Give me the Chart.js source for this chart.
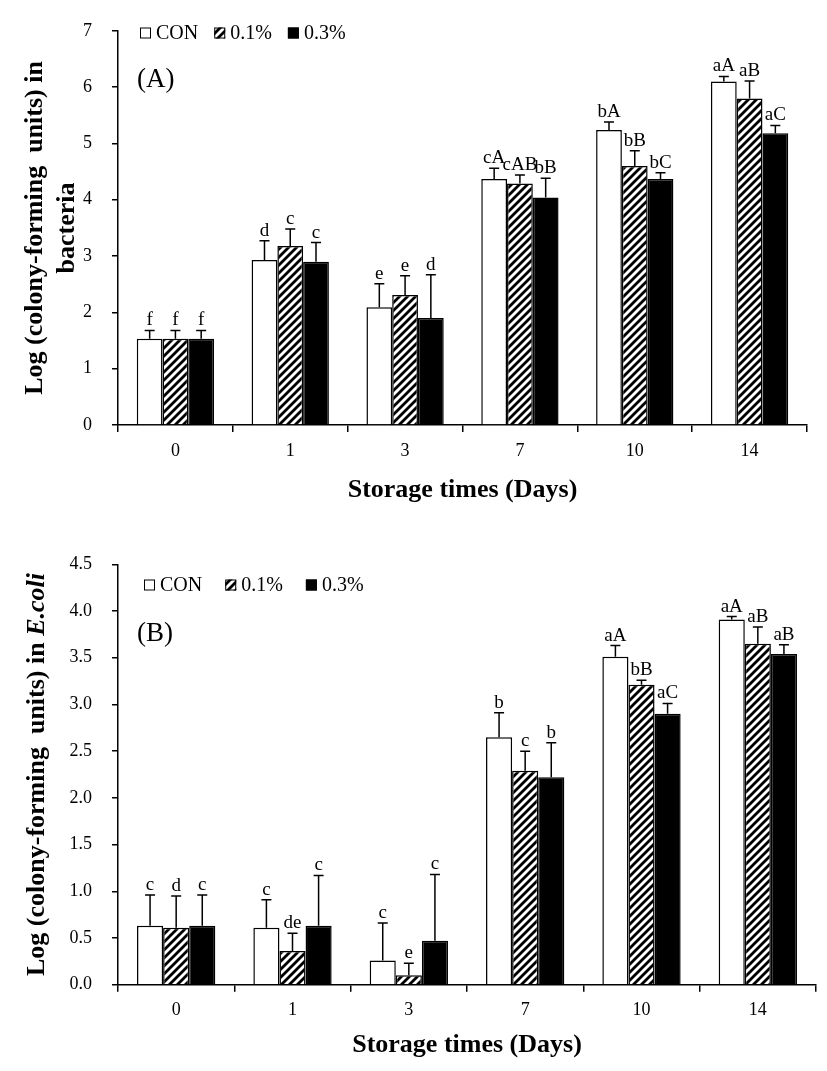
<!DOCTYPE html>
<html><head><meta charset="utf-8">
<script src="https://cdn.jsdelivr.net/npm/chart.js@4.4.0/dist/chart.umd.min.js"></script>
<style>
html,body{margin:0;padding:0;background:#fff;}
#wrapA{position:absolute;left:0;top:0;width:827px;height:530px;}
#wrapB{position:absolute;left:0;top:530px;width:827px;height:541px;}
canvas{display:block;}
</style></head><body>
<div id="wrapA"><canvas id="cA" width="827" height="530"></canvas></div>
<div id="wrapB"><canvas id="cB" width="827" height="541"></canvas></div>
<script>
const days = ['0', '1', '3', '7', '10', '14'];
const seriesNames = ['CON', '0.1%', '0.3%'];

// (A) bacteria
const bactCON = [1.53, 2.93, 2.09, 4.37, 5.24, 6.10];
const bact01  = [1.53, 3.18, 2.31, 4.29, 4.60, 5.80];
const bact03  = [1.53, 2.90, 1.90, 4.04, 4.37, 5.18];
const bactErrCON = [0.15, 0.34, 0.42, 0.19, 0.14, 0.09];
const bactErr01  = [0.15, 0.30, 0.34, 0.15, 0.27, 0.31];
const bactErr03  = [0.15, 0.34, 0.77, 0.34, 0.11, 0.14];
const bactLetCON = ['f', 'd', 'e', 'cA', 'bA', 'aA'];
const bactLet01  = ['f', 'c', 'e', 'cAB', 'bB', 'aB'];
const bactLet03  = ['f', 'c', 'd', 'bB', 'bC', 'aC'];
const yTicksA = [0, 1, 2, 3, 4, 5, 6, 7];

// (B) E.coli
const ecoliCON = [0.63, 0.61, 0.26, 2.65, 3.51, 3.91];
const ecoli01  = [0.61, 0.36, 0.10, 2.29, 3.21, 3.65];
const ecoli03  = [0.63, 0.63, 0.47, 2.22, 2.90, 3.54];
const ecoliErrCON = [0.33, 0.30, 0.40, 0.26, 0.12, 0.03];
const ecoliErr01  = [0.34, 0.19, 0.13, 0.21, 0.05, 0.18];
const ecoliErr03  = [0.33, 0.54, 0.71, 0.37, 0.11, 0.10];
const ecoliLetCON = ['c', 'c', 'c', 'b', 'aA', 'aA'];
const ecoliLet01  = ['d', 'de', 'e', 'c', 'bB', 'aB'];
const ecoliLet03  = ['c', 'c', 'c', 'b', 'aC', 'aB'];
const yTicksB = [0, 0.5, 1.0, 1.5, 2.0, 2.5, 3.0, 3.5, 4.0, 4.5];

const SERIF = '"Liberation Serif", "Times New Roman", serif';

function hatchPattern(targetCtx) {
  const c = document.createElement('canvas');
  c.width = 8; c.height = 8;
  const x = c.getContext('2d');
  x.fillStyle = '#fff'; x.fillRect(0, 0, 8, 8);
  x.strokeStyle = '#000'; x.lineWidth = 2.8;
  x.beginPath();
  x.moveTo(-2, 10); x.lineTo(10, -2);
  x.moveTo(-2, 2); x.lineTo(2, -2);
  x.moveTo(6, 10); x.lineTo(10, 6);
  x.stroke();
  return targetCtx.createPattern(c, 'repeat');
}

const annot = {
  id: 'annot',
  afterDatasetsDraw(chart, args, o) {
    const ctx = chart.ctx, ys = chart.scales.y;
    chart.data.datasets.forEach((ds, i) => {
      const meta = chart.getDatasetMeta(i);
      meta.data.forEach((bar, j) => {
        const v = ds.data[j], e = ds.err[j];
        const yT = ys.getPixelForValue(v + e), yB = bar.y, x = bar.x;
        ctx.save();
        ctx.strokeStyle = '#000'; ctx.lineWidth = 1.5;
        ctx.beginPath();
        ctx.moveTo(x, yB); ctx.lineTo(x, yT);
        ctx.moveTo(x - 5, yT); ctx.lineTo(x + 5, yT);
        ctx.stroke();
        ctx.fillStyle = '#000';
        ctx.font = '19px ' + SERIF;
        ctx.textAlign = 'center'; ctx.textBaseline = 'alphabetic';
        ctx.fillText(ds.letters[j], x, yT - 5);
        ctx.restore();
      });
    });
  },
  afterDraw(chart, args, o) {
    const ctx = chart.ctx;
    ctx.save();
    // legend
    let x = o.legendX;
    const y = o.legendY;
    ctx.font = '20px ' + SERIF;
    ctx.textBaseline = 'middle'; ctx.textAlign = 'left';
    chart.data.datasets.forEach((ds) => {
      ctx.fillStyle = ds.backgroundColor;
      ctx.fillRect(x, y - 5.5, 11, 11);
      ctx.strokeStyle = '#000'; ctx.lineWidth = 1;
      ctx.strokeRect(x + 0.5, y - 5, 10, 10);
      ctx.fillStyle = '#000';
      ctx.fillText(ds.label, x + 16, y + 1);
      x += 16 + ctx.measureText(ds.label).width + o.legendGap;
    });
    // panel label
    ctx.font = '27px ' + SERIF;
    ctx.fillText(o.panel, o.panelX, o.panelY);
    // custom y title (mixed italic)
    if (o.yTitle) {
      ctx.translate(o.yTitle.x, (chart.chartArea.top + chart.chartArea.bottom) / 2);
      ctx.rotate(-Math.PI / 2);
      const f1 = 'bold 26px ' + SERIF, f2 = 'italic bold 26px ' + SERIF;
      ctx.font = f1; const w1 = ctx.measureText(o.yTitle.main).width;
      ctx.font = f2; const w2 = ctx.measureText(o.yTitle.ital).width;
      let sx = -(w1 + w2) / 2;
      ctx.textAlign = 'left'; ctx.textBaseline = 'middle';
      ctx.font = f1; ctx.fillText(o.yTitle.main, sx, 0);
      ctx.font = f2; ctx.fillText(o.yTitle.ital, sx + w1, 0);
    }
    ctx.restore();
  }
};

function makeChart(id, cfg) {
  const canvas = document.getElementById(id);
  const ctx = canvas.getContext('2d');
  const hatch = hatchPattern(ctx);
  const fills = ['#ffffff', hatch, '#000000'];
  const datasets = cfg.series.map((d, i) => ({
    label: seriesNames[i],
    data: d,
    err: cfg.errs[i],
    letters: cfg.letters[i],
    backgroundColor: fills[i],
    borderColor: '#000',
    borderWidth: 1.5,
    categoryPercentage: 0.673,
    barPercentage: 1.0
  }));
  return new Chart(ctx, {
    type: 'bar',
    data: { labels: days, datasets },
    plugins: [annot],
    options: {
      responsive: false,
      animation: false,
      devicePixelRatio: 1,
      layout: { padding: { top: cfg.padTop, right: cfg.padRight, left: 0, bottom: 0 } },
      plugins: {
        legend: { display: false },
        tooltip: { enabled: false },
        annot: cfg.annot
      },
      scales: {
        x: {
          grid: { display: true, drawOnChartArea: false, drawTicks: true, tickLength: 7, color: '#000', lineWidth: 1.5, offset: true },
          border: { display: true, color: '#000', width: 1.5 },
          ticks: { color: '#000', font: { family: SERIF, size: 18 }, padding: cfg.xTickPad },
          title: { display: true, text: 'Storage times (Days)', color: '#000',
                   font: { family: SERIF, size: 26, weight: 'bold' }, padding: { top: 0, bottom: cfg.xTitlePad } },
          afterFit(s) { s.height = cfg.xHeight; }
        },
        y: {
          min: 0, max: cfg.yTicks[cfg.yTicks.length - 1],
          afterBuildTicks(s) { s.ticks = cfg.yTicks.map(v => ({ value: v })); },
          grid: { drawOnChartArea: false, drawTicks: true, tickLength: 6, color: '#000', lineWidth: 1.5 },
          border: { display: true, color: '#000', width: 1.5 },
          ticks: { color: '#000', font: { family: SERIF, size: 18 }, padding: 20,
                   callback: v => cfg.yDec ? Number(v).toFixed(1) : String(v) },
          title: cfg.yTitle ? { display: true, text: cfg.yTitle, color: '#000',
                   font: { family: SERIF, size: 26, weight: 'bold', lineHeight: 1.25 }, padding: { top: 19, bottom: 0 } } : { display: false },
          afterFit(s) { s.width = 118; }
        }
      }
    }
  });
}

makeChart('cA', {
  series: [bactCON, bact01, bact03],
  errs: [bactErrCON, bactErr01, bactErr03],
  letters: [bactLetCON, bactLet01, bactLet03],
  yTicks: yTicksA, yDec: false,
  yTitle: ['Log (colony-forming  units) in', 'bacteria'],
  padTop: 15, padRight: 20, xHeight: 105, xTickPad: 8, xTitlePad: 24,
  annot: { legendX: 140, legendY: 33, legendGap: 16, panel: '(A)', panelX: 137, panelY: 80 }
});

makeChart('cB', {
  series: [ecoliCON, ecoli01, ecoli03],
  errs: [ecoliErrCON, ecoliErr01, ecoliErr03],
  letters: [ecoliLetCON, ecoliLet01, ecoliLet03],
  yTicks: yTicksB, yDec: true,
  yTitle: null,
  padTop: 34.3, padRight: 11, xHeight: 86.3, xTickPad: 7.5, xTitlePad: 10.4,
  annot: { legendX: 144, legendY: 55, legendGap: 23, panel: '(B)', panelX: 137, panelY: 104,
           yTitle: { x: 37, main: 'Log (colony-forming  units) in ', ital: 'E.coli' } }
});
</script>
</body></html>
